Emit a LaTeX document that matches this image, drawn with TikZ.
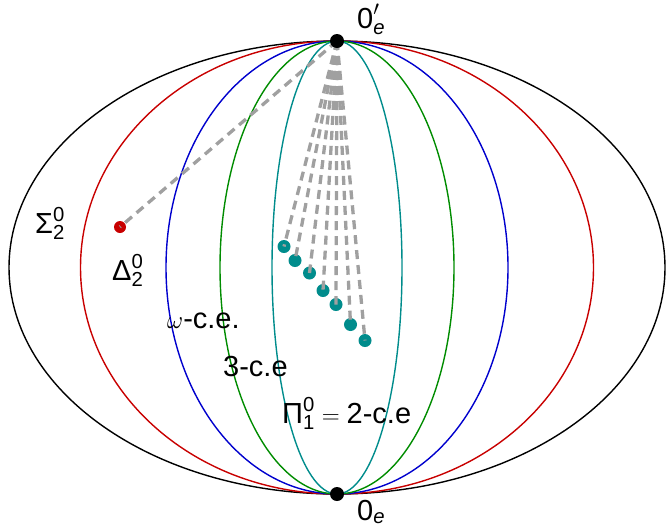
\documentclass[tikz,border=0pt]{standalone}
\usepackage{amsmath}
\usepackage{fontspec}
\setmainfont{Liberation Sans}
\definecolor{cred}{RGB}{200,0,0}
\definecolor{cblue}{RGB}{0,0,205}
\definecolor{cgreen}{RGB}{0,140,0}
\definecolor{cteal}{RGB}{0,140,140}
\definecolor{cgray}{RGB}{160,160,160}
\begin{document}
\begin{tikzpicture}[x=1pt,y=-1pt,
  ring/.style={line width=1.4pt},
  lbl/.style={font=\fontsize{29}{31}\selectfont, inner sep=0pt, anchor=base west},
  link/.style={cgray, line width=3.3pt, dash pattern=on 9pt off 6pt},
  tdot/.style={circle, fill=cteal, inner sep=0pt, minimum size=13pt},
  rdot/.style={circle, fill=cred, inner sep=0pt, minimum size=12pt},
  bdot/.style={circle, fill=black, inner sep=0pt, minimum size=14pt}]
\useasboundingbox (0,0) rectangle (666,523);
\coordinate (c) at (337,267.5);
\draw[ring, black] (c) ellipse [x radius=328, y radius=226.5];
\draw[ring, cred] (c) ellipse [x radius=256.5, y radius=226.5];
\draw[ring, cblue] (c) ellipse [x radius=171, y radius=226.5];
\draw[ring, cgreen] (c) ellipse [x radius=117, y radius=226.5];
\draw[ring, cteal] (c) ellipse [x radius=65, y radius=226.5];
% dots
\node[rdot] (r) at (120,227) {};
\node[tdot] (t1) at (284,246.5) {};
\node[tdot] (t2) at (295,260.5) {};
\node[tdot] (t3) at (309.5,273) {};
\node[tdot] (t4) at (323,290.5) {};
\node[tdot] (t5) at (336,304.5) {};
\node[tdot] (t6) at (350.5,324.5) {};
\node[tdot] (t7) at (365,340.5) {};
\coordinate (top) at (337,41);
\coordinate (bot) at (337,494);
\foreach \n in {r,t1,t2,t3,t4,t5,t6,t7}
  \draw[link] (top) -- (\n.center);
\node[bdot] (topdot) at (top) {};
\node[bdot] (botdot) at (bot) {};
% labels
\node[lbl] (ltop) at (357,28) {$\text{0}'_{\text{\itshape e}}$};
\node[lbl] (lbot) at (357,520) {$\text{0}_{\text{\itshape e}}$};
\node[lbl] (lsig) at (35,233) {$\text{Σ}^{\text{0}}_{\text{2}}$};
\node[lbl] (ldel) at (112,280) {$\text{Δ}^{\text{0}}_{\text{2}}$};
\node[lbl] (lom) at (167,328) {$\omega$-c.e.};
\node[lbl] (l3) at (223,376) {3-c.e};
\node[lbl] (lpi) at (282,423) {$\text{Π}^{\text{0}}_{\text{1}}=\text{2-c.e}$};
\end{tikzpicture}
\end{document}
